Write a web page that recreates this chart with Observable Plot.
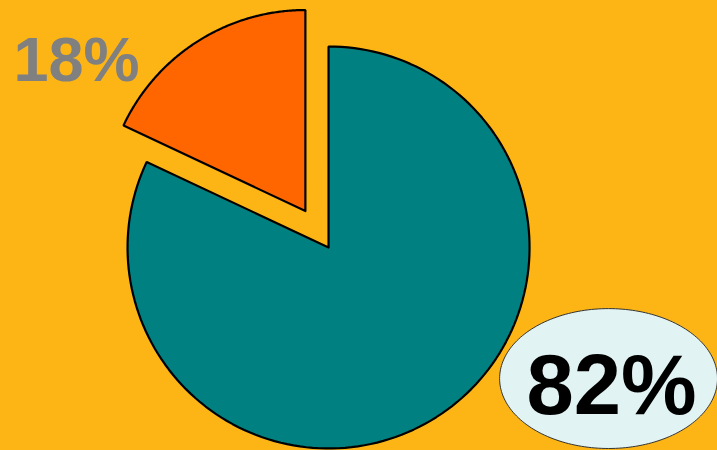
<!DOCTYPE html>
<html>
<head>
<meta charset="utf-8">
<script src="https://cdn.jsdelivr.net/npm/d3@7"></script>
<script src="https://cdn.jsdelivr.net/npm/@observablehq/plot@0.6"></script>
<style>
  html, body { margin: 0; padding: 0; background: #FDB515; overflow: hidden; }
</style>
</head>
<body>
<div id="chart"></div>
<script>
// ---- data ----
const categories = ["Main", "Other"];
const values = [82, 18];
const labels = ["82%", "18%"];
const colors = ["#008080", "#FF6600"];
const explode = [0, 0.215];

// ---- layout (in units of pie radius, pie centred at 0,0) ----
const xDomain = [-1.632, 1.935];
const yDomain = [-1.010, 1.229];
const labelPos = [
  {x: 1.408, y: -0.694, size: 85, color: "#000000"},
  {x: -1.254, y: 0.930, size: 63, color: "#808080"}
];
const bubble = {cx: 1.393, cy: -0.652, rx: 0.542, ry: 0.348};

// build pie slices from the data using d3.pie
const pie = d3.pie().sort(null).value(d => d.value);
const table = categories.map((c, i) => ({category: c, value: values[i], color: colors[i], explode: explode[i]}));
const arcs = pie(table);
const slicePts = [];
arcs.forEach(a => {
  const mid = (a.startAngle + a.endAngle) / 2;
  const ox = Math.sin(mid) * a.data.explode;
  const oy = Math.cos(mid) * a.data.explode;
  const n = 160;
  const pts = [{x: ox, y: oy}];
  for (let k = 0; k <= n; k++) {
    const t = a.startAngle + (a.endAngle - a.startAngle) * k / n;
    pts.push({x: ox + Math.sin(t), y: oy + Math.cos(t)});
  }
  pts.push({x: ox, y: oy});
  pts.forEach(p => slicePts.push({...p, category: a.data.category, color: a.data.color}));
});

// ellipse behind the 82% label
const ellPts = d3.range(0, 201).map(k => {
  const t = 2 * Math.PI * k / 200;
  return {x: bubble.cx + bubble.rx * Math.cos(t), y: bubble.cy + bubble.ry * Math.sin(t)};
});

const labelData = labels.map((l, i) => ({label: l, ...labelPos[i]}));

const chart = Plot.plot({
  width: 717,
  height: 450,
  margin: 0,
  x: {domain: xDomain, axis: null},
  y: {domain: yDomain, axis: null},
  style: {background: "#FDB515", fontFamily: "Liberation Sans, Arial, sans-serif"},
  marks: [
    Plot.line(slicePts, {x: "x", y: "y", z: "category", fill: d => d.color, stroke: "#000", strokeWidth: 2.2, strokeLinejoin: "miter", curve: "linear"}),
    Plot.line(ellPts, {x: "x", y: "y", fill: "#E2F3F3", stroke: "#333", strokeWidth: 1, curve: "linear"}),
    ...labelData.map(d => Plot.text([d], {x: "x", y: "y", text: "label", fill: d.color, fontSize: d.size, fontWeight: "bold", lineAnchor: "middle", textAnchor: "middle"}))
  ]
});
document.getElementById("chart").appendChild(chart);
</script>
</body>
</html>
